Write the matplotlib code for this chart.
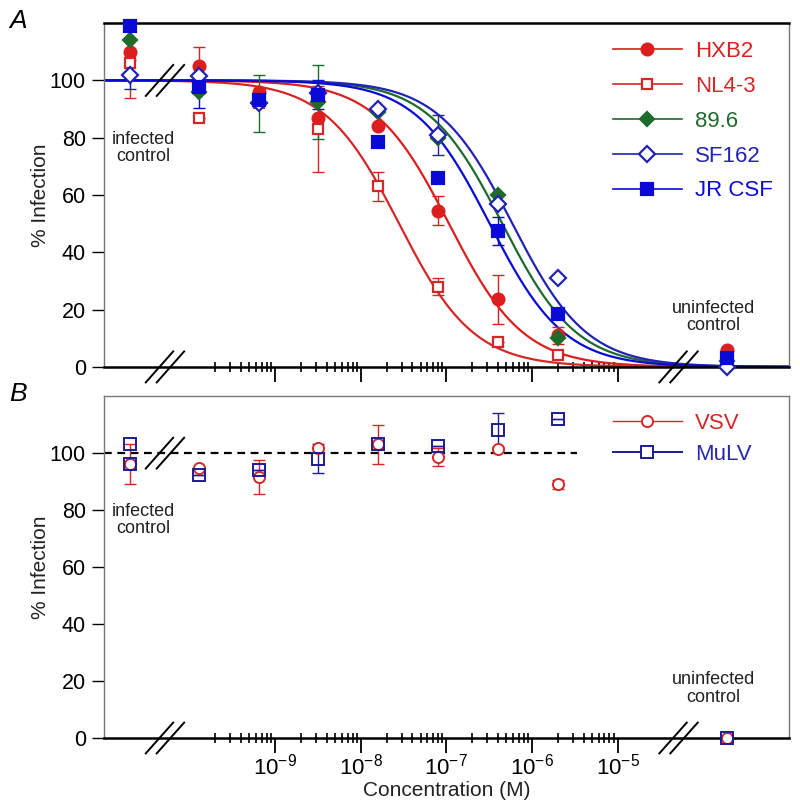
import numpy as np
import matplotlib
matplotlib.use("Agg")
import matplotlib.pyplot as plt
from matplotlib.ticker import FixedLocator, NullFormatter, LogFormatterSciNotation

plt.rcParams['font.family'] = ['Liberation Sans', 'DejaVu Sans']

# concentrations (M), 5-fold dilution series
conc = [1.28e-10, 6.4e-10, 3.2e-9, 1.6e-8, 8e-8, 4e-7, 2e-6]
# where the infected / uninfected controls are drawn on the broken axis
x_infected = 2e-11
x_uninfected = 1.9e-4

# panel A: % infection, HIV-1 strains
hxb2 = [105, 96, 87, 84, 54.5, 23.6, 11]
hxb2_err = [6.5, 0, 0, 0, 5, 8.5, 3]
nl43 = [87, 92, 83, 63, 28, 8.6, 4.2]
nl43_err = [0, 0, 15, 5, 3, 0, 0]
hiv896 = [96, 92, 92.5, 89, 80, 60, 10]
hiv896_err = [0, 10, 13, 0, 0, 0, 0]
sf162 = [101.5, 92, 95.5, 90, 81, 56.7, 31]
sf162_err = [0, 0, 0, 0, 7, 0, 0]
jrcsf = [97.5, 93, 95, 78.5, 66, 47.4, 18.4]
jrcsf_err = [7, 0, 5, 0, 0, 5, 0]

# controls for panel A (infected, uninfected)
ctrl_hxb2 = [110, 6]
ctrl_nl43 = [106, 4]
ctrl_896 = [114, 2]
ctrl_sf162 = [102, 0]
ctrl_jrcsf = [119, 3]
ctrl_err_nl43 = [12, 0]
ctrl_err_sf162 = [5, 0]

# fitted curve parameters (IC50 in M, Hill slope)
ic50 = {'HXB2': 1.07e-7, 'NL4-3': 2.8e-8, '89.6': 4.5e-7, 'SF162': 5.9e-7, 'JR CSF': 3.2e-7}
hill = {'HXB2': 1.0, 'NL4-3': 1.0, '89.6': 1.0, 'SF162': 1.0, 'JR CSF': 1.0}

# panel B: control viruses
vsv = [94.8, 91.6, 101.7, 103, 98.6, 101.4, 89]
vsv_err = [0, 6, 0, 7, 3, 0, 1.5]
mulv = [92.3, 94, 98, 103, 102.5, 108, 112]
mulv_err = [0, 0, 5, 0, 0, 6, 0]
vsv_ctrl = [96, 0]
vsv_ctrl_err = [7, 0]
mulv_ctrl_inf = [103, 96]
mulv_ctrl_uninf = [0]

red = '#dc1e1e'
red2 = '#d42828'
green = '#1e6b2c'
blue_open = '#2222b4'
blue = '#0a0ad6'
navy = '#1c1c94'

fig = plt.figure(figsize=(8, 8.1), dpi=100)
axA = fig.add_axes([0.13, 0.547, 0.856, 0.4246])
axB = fig.add_axes([0.13, 0.0889, 0.856, 0.4222])

xfit = np.logspace(-11, -3, 400)
ctrl_x = [x_infected, x_uninfected]

series = [
    ('HXB2', hxb2, hxb2_err, ctrl_hxb2, [0, 0], red, 'o', red, 8.5),
    ('NL4-3', nl43, nl43_err, ctrl_nl43, ctrl_err_nl43, red2, 's', 'white', 7.5),
    ('89.6', hiv896, hiv896_err, ctrl_896, [0, 0], green, 'D', green, 7),
    ('SF162', sf162, sf162_err, ctrl_sf162, ctrl_err_sf162, blue_open, 'D', 'white', 8),
    ('JR CSF', jrcsf, jrcsf_err, ctrl_jrcsf, [0, 0], blue, 's', blue, 8.5),
]

handles = []
for name, vals, err, ctrl, cerr, col, mk, fc, ms in series:
    yfit = 100 / (1 + (xfit / ic50[name]) ** hill[name])
    axA.plot(xfit, yfit, color=col, lw=1.6, zorder=2)
for name, vals, err, ctrl, cerr, col, mk, fc, ms in series:
    xs = conc + ctrl_x
    ys = vals + ctrl
    es = err + cerr
    axA.errorbar(xs, ys, yerr=es, fmt='none', ecolor=col, elinewidth=1.0,
                 capsize=4, capthick=1.0, zorder=3, clip_on=False)
    axA.plot(xs, ys, ls='none', marker=mk, ms=ms, mfc=fc, mec=col, mew=1.6,
             zorder=4, clip_on=False)
    h, = axA.plot([], [], color=col, lw=1.2, marker=mk, ms=ms, mfc=fc, mec=col, mew=1.6)
    handles.append(h)

legA = axA.legend(handles, [s[0] for s in series], loc='upper left',
                  bbox_to_anchor=(0.743, 0.947), frameon=False, fontsize=16,
                  handlelength=3.1, handletextpad=0.6, labelspacing=0.62,
                  borderpad=0, borderaxespad=0)
for t, s in zip(legA.get_texts(), series):
    t.set_color(s[5])

# panel B
axB.axhline(100, xmin=0, xmax=(np.log10(3.4e-6) + 11) / 8, color='black',
            lw=1.6, ls=(0, (3.5, 2.5)), zorder=1)
axB.errorbar(conc + ctrl_x, vsv + vsv_ctrl, yerr=vsv_err + vsv_ctrl_err, fmt='none',
             ecolor=red2, elinewidth=1.0, capsize=4, capthick=1.0, zorder=3)
axB.errorbar(conc, mulv, yerr=mulv_err, fmt='none', ecolor=navy, elinewidth=1.0,
             capsize=4, capthick=1.0, zorder=3)
axB.plot(conc + ctrl_x, vsv + vsv_ctrl, ls='none', marker='o', ms=8, mfc='white',
         mec=red2, mew=1.4, zorder=4, clip_on=False)
axB.plot(conc + [x_infected, x_infected, x_uninfected], mulv + mulv_ctrl_inf + mulv_ctrl_uninf,
         ls='none', marker='s', ms=8, mfc='none', mec=navy, mew=1.4, zorder=5, clip_on=False)
hv, = axB.plot([], [], color=red2, lw=1.0, marker='o', ms=8, mfc='white', mec=red2, mew=1.4)
hm, = axB.plot([], [], color=navy, lw=1.4, marker='s', ms=8, mfc='white', mec=navy, mew=1.4)
legB = axB.legend([hv, hm], ['VSV', 'MuLV'], loc='upper left',
                  bbox_to_anchor=(0.743, 0.95), frameon=False, fontsize=16,
                  handlelength=3.1, handletextpad=0.6, labelspacing=0.44,
                  borderpad=0, borderaxespad=0)
legB.get_texts()[0].set_color(red2)
legB.get_texts()[1].set_color('#2828b0')

major = [1e-9, 1e-8, 1e-7, 1e-6, 1e-5]
minor = [m * 10.0 ** e for e in range(-10, -5) for m in range(2, 10)]
for ax, label in [(axA, 'A'), (axB, 'B')]:
    ax.set_xscale('log')
    ax.set_xlim(1e-11, 1e-3)
    ax.set_ylim(0, 120)
    ax.xaxis.set_major_locator(FixedLocator(major))
    ax.xaxis.set_minor_locator(FixedLocator(minor))
    ax.xaxis.set_minor_formatter(NullFormatter())
    ax.set_yticks([0, 20, 40, 60, 80, 100])
    ax.tick_params(axis='y', direction='out', length=9, width=1.0, labelsize=15.5, pad=4)
    ax.tick_params(axis='x', which='major', direction='out', length=11, width=1.3,
                   labelsize=16, pad=0)
    ax.tick_params(axis='x', which='minor', direction='inout', length=7, width=1.2)
    ax.set_ylabel('% Infection', fontsize=15, color='#222222', labelpad=0)
    for side in ['left', 'right', 'top']:
        ax.spines[side].set_color('#777777')
        ax.spines[side].set_linewidth(1.0)
    ax.spines['bottom'].set_linewidth(1.8)
    fig.text(0.012, ax.get_position().y1 + 0.003, label, fontsize=19, style='italic',
             ha='left', va='center')
    ax.text(0.057, 0.637, 'infected\ncontrol', transform=ax.transAxes, fontsize=13,
            ha='center', va='center', linespacing=1.05, color='#222222')
    ax.text(0.89, 0.145, 'uninfected\ncontrol', transform=ax.transAxes, fontsize=13,
            ha='center', va='center', linespacing=1.05, color='#222222')
    # axis break marks
    for bx, by in [(0.089, 0.0), (0.839, 0.0), (0.089, 0.833)]:
        for dx in (-0.008, 0.008):
            ax.plot([bx + dx - 0.02, bx + dx + 0.02], [by - 0.045, by + 0.045],
                    transform=ax.transAxes, color='black', lw=1.4, clip_on=False, zorder=6)

axA.spines['top'].set_color('black')
axA.spines['top'].set_linewidth(1.8)
axA.xaxis.set_major_formatter(NullFormatter())
axB.xaxis.set_major_formatter(LogFormatterSciNotation())
axB.set_xlabel('Concentration (M)', fontsize=15, color='#222222', labelpad=1)

fig.savefig('out.png', dpi=100)
